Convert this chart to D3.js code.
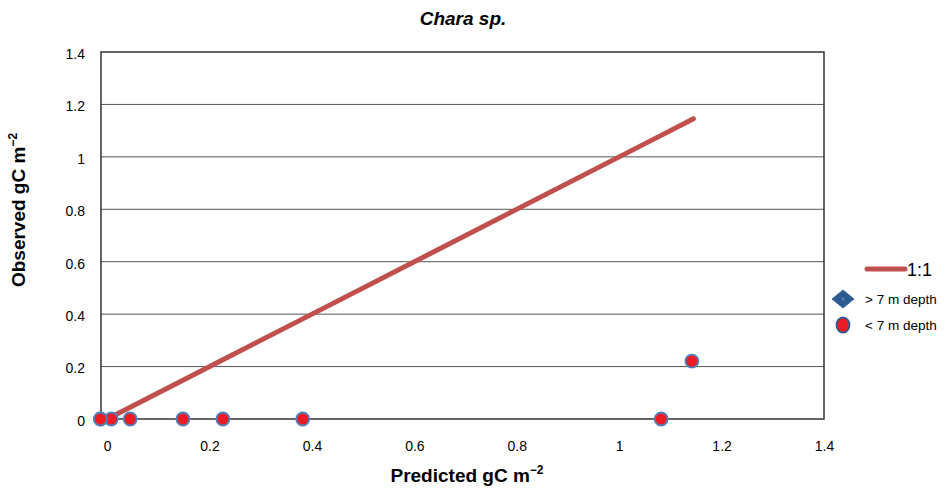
<!DOCTYPE html>
<html>
<head>
<meta charset="utf-8">
<script src="https://cdn.jsdelivr.net/npm/d3@7"></script>
<style>
  body { margin: 0; background: #fff; }
  text { font-family: "Liberation Sans", Arial, sans-serif; }
</style>
</head>
<body>
<svg id="chart" width="947" height="488"></svg>
<script>
const predicted = [-0.013, 0.008, 0.045, 0.148, 0.226, 0.382, 1.082, 1.142, -0.013];
const observed  = [0, 0, 0, 0, 0, 0, 0, 0.221, 0];
const oneToOne  = [0.003, 0.045, 0.148, 0.226, 0.382, 1.082, 1.145];
const tickVals  = [0, 0.2, 0.4, 0.6, 0.8, 1, 1.2, 1.4];

const svg = d3.select("#chart");
const margin = { top: 52, right: 123, bottom: 69, left: 101 };
const W = +svg.attr("width"), H = +svg.attr("height");
const innerW = W - margin.left - margin.right;
const innerH = H - margin.top - margin.bottom;

const x = d3.scaleLinear().domain([-0.012, 1.4]).range([0, innerW]);
const y = d3.scaleLinear().domain([0, 1.4]).range([innerH, 0]);

const g = svg.append("g").attr("transform", `translate(${margin.left},${margin.top})`);

// gridlines
g.selectAll(".grid").data(tickVals.slice(1, -1)).join("line")
  .attr("x1", 0).attr("x2", innerW)
  .attr("y1", d => y(d)).attr("y2", d => y(d))
  .attr("stroke", "#555").attr("stroke-width", 1);

// frame
g.append("rect").attr("width", innerW).attr("height", innerH)
  .attr("fill", "none").attr("stroke", "#333").attr("stroke-width", 1.5);

// axes labels (no tick marks)
const fmt = d => d3.format("")(+d.toFixed(1));
const yAxis = g.append("g").call(d3.axisLeft(y).tickValues(tickVals).tickSize(0).tickPadding(16).tickFormat(fmt));
yAxis.select(".domain").remove();
yAxis.selectAll("text").attr("font-size", 14).attr("fill", "#000").attr("dy", "0.45em");

const xAxis = g.append("g").attr("transform", `translate(0,${innerH})`)
  .call(d3.axisBottom(x).tickValues(tickVals).tickSize(0).tickPadding(22).tickFormat(fmt));
xAxis.select(".domain").remove();
xAxis.selectAll("text").attr("font-size", 14).attr("fill", "#000");

// 1:1 line
const line = d3.line().x(d => x(d)).y(d => y(d));
g.append("path").datum(oneToOne)
  .attr("d", line).attr("fill", "none")
  .attr("stroke", "#c0504d").attr("stroke-width", 5).attr("stroke-linecap", "round");

// points < 7 m depth
const pts = predicted.map((p, i) => ({ p, o: observed[i] }));
g.selectAll(".pt").data(pts).join("circle")
  .attr("cx", d => x(d.p)).attr("cy", d => y(d.o)).attr("r", 6.5)
  .attr("fill", "#ed1c24").attr("stroke", "#4f81bd").attr("stroke-width", 1.8);

// title
svg.append("text").attr("x", 463).attr("y", 25).attr("text-anchor", "middle")
  .attr("font-size", 19).attr("font-weight", "bold").attr("font-style", "italic")
  .text("Chara sp.");

// axis titles
const xt = svg.append("text").attr("x", 467).attr("y", 482).attr("text-anchor", "middle")
  .attr("font-size", 19).attr("font-weight", "bold");
xt.append("tspan").text("Predicted gC m");
xt.append("tspan").attr("dy", -8).attr("font-size", 12).text("\u22122");

const yt = svg.append("text").attr("transform", "translate(25,210) rotate(-90)")
  .attr("text-anchor", "middle").attr("font-size", 19).attr("font-weight", "bold");
yt.append("tspan").text("Observed gC m");
yt.append("tspan").attr("dy", -8).attr("font-size", 12).text("\u22122");

// legend
const lg = svg.append("g");
lg.append("line").attr("x1", 867).attr("x2", 905).attr("y1", 269).attr("y2", 269)
  .attr("stroke", "#c0504d").attr("stroke-width", 5).attr("stroke-linecap", "round");
lg.append("text").attr("x", 907).attr("y", 276).attr("font-size", 18).text("1:1");

lg.append("path").attr("d", "M-11,0L0,-9L11,0L0,9Z")
  .attr("transform", "translate(843,299)")
  .attr("fill", "#2c5a8c").attr("stroke", "#3b6ea5").attr("stroke-width", 1);
lg.append("circle").attr("cx", 843).attr("cy", 299).attr("r", 1.5).attr("fill", "#4f81bd");
lg.append("text").attr("x", 865).attr("y", 304).attr("font-size", 13.5).text("> 7 m depth");

lg.append("ellipse").attr("cx", 843).attr("cy", 325).attr("rx", 6.5).attr("ry", 7.5)
  .attr("fill", "#ed1c24").attr("stroke", "#2c5a8c").attr("stroke-width", 1.8);
lg.append("text").attr("x", 865).attr("y", 330).attr("font-size", 13.5).text("< 7 m depth");
</script>
</body>
</html>
